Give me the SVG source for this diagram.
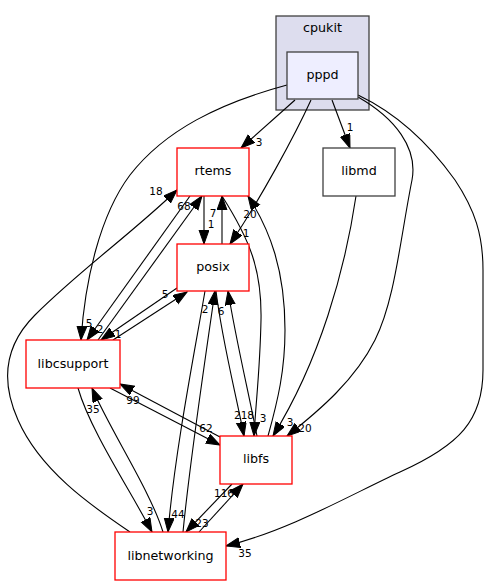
<svg xmlns="http://www.w3.org/2000/svg" width="489" height="585" viewBox="0 0 489 585">
<style>
.n{fill:#ffffff;stroke:#ff0000;stroke-width:1.3}
.g{fill:#ffffff;stroke:#404040;stroke-width:1.3}
.t{font-family:"DejaVu Sans","Liberation Sans",sans-serif;font-size:12.7px;fill:#000;text-anchor:middle}
.l{font-family:"DejaVu Sans","Liberation Sans",sans-serif;font-size:10.5px;fill:#000;text-anchor:middle}
.e path{fill:none;stroke:#000;stroke-width:1.1;marker-end:url(#a)}
</style>
<defs>
<marker id="a" markerWidth="16" markerHeight="12" refX="14" refY="5" orient="auto" markerUnits="userSpaceOnUse"><path d="M0,0 L14,5 L0,10 z" fill="#000" stroke="#000" stroke-width="1"/></marker>
</defs>
<rect width="489" height="585" fill="#ffffff"/>
<g id="cluster_cpukit">
<rect x="276" y="16" width="93" height="94" fill="#ddddee" stroke="#404040" stroke-width="1.3"/>
<text class="t" x="322.5" y="32">cpukit</text>
</g>
<g id="edges" class="e">
<path d="M295,100 L241,148"/>
<path d="M332,100 L350,148"/>
<path d="M311,100 C295,135 260,200 230,244"/>
<path d="M287,85 C220,103 165,130 130,175 C100,215 85,280 81,340"/>
<path d="M204,196 L204,244"/>
<path d="M222,244 L222,196"/>
<path d="M190,196 L87,340"/>
<path d="M98,340 L202,196"/>
<path d="M177,288 L101,340"/>
<path d="M113,340 L187,292"/>
<path d="M222,196 C250,240 262,270 261,320 C260,370 256,400 254,436"/>
<path d="M268,436 C278,400 285,370 285,330 C285,270 270,230 248,196"/>
<path d="M216,291 C222,340 235,390 244,436"/>
<path d="M257,436 C248,390 236,340 228,291"/>
<path d="M183,532 C190,460 205,360 215,291"/>
<path d="M205,291 C195,350 175,450 168,532"/>
<path d="M110,388 L220,445"/>
<path d="M220,437 L120,384"/>
<path d="M78,388 C90,430 130,490 152,532"/>
<path d="M163,532 C150,490 110,430 92,388"/>
<path d="M199,532 L243,484"/>
<path d="M232,484 L186,532"/>
<path d="M358,95 C400,115 430,145 455,180 C475,210 483,235 483,270 L483,370 C483,420 460,445 400,472 C350,495 290,530 226,546"/>
<path d="M358,97 C395,118 418,148 412,180 C400,240 395,300 375,340 C355,380 320,410 287,436"/>
<path d="M356,196 C345,270 320,360 273,436"/>
<path d="M130,532 C90,505 40,470 18,420 C0,380 5,345 35,315 C80,270 130,235 177,190"/>
</g>
<g id="edge_labels">
<text class="l" x="259" y="146">3</text>
<text class="l" x="350" y="131">1</text>
<text class="l" x="246" y="237">1</text>
<text class="l" x="89" y="327">5</text>
<text class="l" x="211" y="228">1</text>
<text class="l" x="213" y="217">7</text>
<text class="l" x="100" y="333">2</text>
<text class="l" x="184" y="210">68</text>
<text class="l" x="118" y="338">1</text>
<text class="l" x="165" y="298">5</text>
<text class="l" x="263" y="422">3</text>
<text class="l" x="250" y="218">20</text>
<text class="l" x="244" y="419">218</text>
<text class="l" x="221" y="315">6</text>
<text class="l" x="205" y="313">2</text>
<text class="l" x="178" y="518">44</text>
<text class="l" x="206" y="432">62</text>
<text class="l" x="133" y="404">99</text>
<text class="l" x="150" y="515">3</text>
<text class="l" x="93" y="413">35</text>
<text class="l" x="224" y="497">116</text>
<text class="l" x="202" y="527">23</text>
<text class="l" x="245" y="557">35</text>
<text class="l" x="305" y="432">20</text>
<text class="l" x="290" y="426">3</text>
<text class="l" x="156" y="195">18</text>
</g>
<g id="node_pppd">
<rect x="287" y="52" width="71" height="47" fill="#eeeeff" stroke="#404040" stroke-width="1.3"/>
<text class="t" x="322.5" y="79">pppd</text>
</g>
<g id="node_rtems">
<rect class="n" x="177" y="148" width="72" height="48"/>
<text class="t" x="213" y="175">rtems</text>
</g>
<g id="node_libmd">
<rect class="g" x="323" y="148" width="72" height="48"/>
<text class="t" x="359" y="175">libmd</text>
</g>
<g id="node_posix">
<rect class="n" x="177" y="244" width="72" height="47"/>
<text class="t" x="213" y="271">posix</text>
</g>
<g id="node_libcsupport">
<rect class="n" x="26" y="340" width="94" height="48"/>
<text class="t" x="73" y="368">libcsupport</text>
</g>
<g id="node_libfs">
<rect class="n" x="220" y="436" width="72" height="48"/>
<text class="t" x="256" y="463">libfs</text>
</g>
<g id="node_libnetworking">
<rect class="n" x="115" y="532" width="111" height="48"/>
<text class="t" x="170.5" y="560">libnetworking</text>
</g>
</svg>
